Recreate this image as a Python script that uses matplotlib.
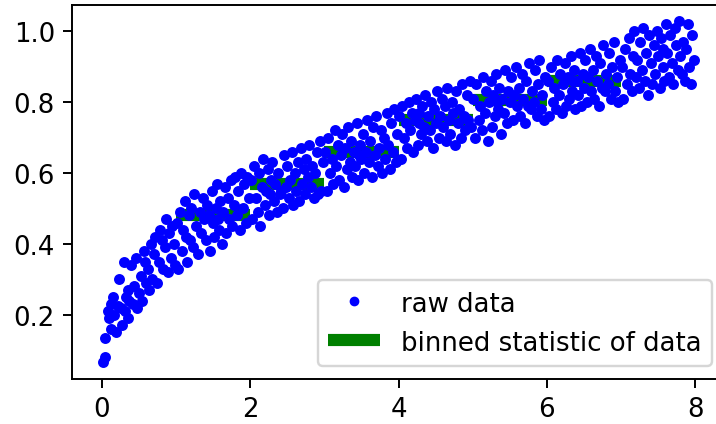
import numpy as np
import matplotlib
matplotlib.use("Agg")
import matplotlib.pyplot as plt

# raw data
windspeed = [
    # 0 - 1
    0.02, 0.04, 0.05, 0.08, 0.10, 0.12, 0.15, 0.17, 0.19, 0.22,
    0.24, 0.26, 0.28, 0.30, 0.31, 0.33, 0.35, 0.37, 0.40, 0.42,
    0.44, 0.46, 0.48, 0.50, 0.53, 0.55, 0.57, 0.60, 0.62, 0.64,
    0.66, 0.68, 0.70, 0.72, 0.75, 0.77, 0.79, 0.81, 0.83, 0.85,
    0.87, 0.89, 0.91, 0.93, 0.95, 0.97, 0.99, 0.13, 0.36, 0.58,
    # 1 - 2
    1.01, 1.03, 1.06, 1.08, 1.10, 1.12, 1.15, 1.17, 1.19, 1.21,
    1.23, 1.25, 1.27, 1.30, 1.32, 1.34, 1.36, 1.38, 1.40, 1.42,
    1.44, 1.46, 1.48, 1.50, 1.52, 1.54, 1.56, 1.58, 1.60, 1.62,
    1.64, 1.66, 1.68, 1.70, 1.72, 1.74, 1.76, 1.78, 1.80, 1.82,
    1.84, 1.86, 1.88, 1.90, 1.92, 1.94, 1.96, 1.98, 1.13, 1.57,
    # 2 - 3
    2.01, 2.03, 2.05, 2.08, 2.10, 2.12, 2.14, 2.16, 2.18, 2.20,
    2.22, 2.24, 2.26, 2.28, 2.30, 2.32, 2.34, 2.36, 2.38, 2.40,
    2.42, 2.44, 2.46, 2.48, 2.50, 2.52, 2.54, 2.56, 2.58, 2.60,
    2.62, 2.64, 2.66, 2.68, 2.70, 2.72, 2.74, 2.76, 2.78, 2.80,
    2.82, 2.84, 2.86, 2.88, 2.90, 2.92, 2.94, 2.96, 2.98, 2.27,
    # 3 - 4
    3.01, 3.03, 3.05, 3.08, 3.10, 3.12, 3.14, 3.16, 3.18, 3.20,
    3.22, 3.24, 3.26, 3.28, 3.30, 3.32, 3.34, 3.36, 3.38, 3.40,
    3.42, 3.44, 3.46, 3.48, 3.50, 3.52, 3.54, 3.56, 3.58, 3.60,
    3.62, 3.64, 3.66, 3.68, 3.70, 3.72, 3.74, 3.76, 3.78, 3.80,
    3.82, 3.84, 3.86, 3.88, 3.90, 3.92, 3.94, 3.96, 3.98, 3.47,
    # 4 - 5
    4.01, 4.03, 4.05, 4.08, 4.10, 4.12, 4.14, 4.16, 4.18, 4.20,
    4.22, 4.24, 4.26, 4.28, 4.30, 4.32, 4.34, 4.36, 4.38, 4.40,
    4.42, 4.44, 4.46, 4.48, 4.50, 4.52, 4.54, 4.56, 4.58, 4.60,
    4.62, 4.64, 4.66, 4.68, 4.70, 4.72, 4.74, 4.76, 4.78, 4.80,
    4.82, 4.84, 4.86, 4.88, 4.90, 4.92, 4.94, 4.96, 4.98, 4.27,
    # 5 - 6
    5.01, 5.03, 5.05, 5.08, 5.10, 5.12, 5.14, 5.16, 5.18, 5.20,
    5.22, 5.24, 5.26, 5.28, 5.30, 5.32, 5.34, 5.36, 5.38, 5.40,
    5.42, 5.44, 5.46, 5.48, 5.50, 5.52, 5.54, 5.56, 5.58, 5.60,
    5.62, 5.64, 5.66, 5.68, 5.70, 5.72, 5.74, 5.76, 5.78, 5.80,
    5.82, 5.84, 5.86, 5.88, 5.90, 5.92, 5.94, 5.96, 5.98, 5.33,
    # 6 - 7
    6.01, 6.03, 6.05, 6.08, 6.10, 6.12, 6.14, 6.16, 6.18, 6.20,
    6.22, 6.24, 6.26, 6.28, 6.30, 6.32, 6.34, 6.36, 6.38, 6.40,
    6.42, 6.44, 6.46, 6.48, 6.50, 6.52, 6.54, 6.56, 6.58, 6.60,
    6.62, 6.64, 6.66, 6.68, 6.70, 6.72, 6.74, 6.76, 6.78, 6.80,
    6.82, 6.84, 6.86, 6.88, 6.90, 6.92, 6.94, 6.96, 6.98, 6.35,
    # 7 - 8
    7.01, 7.03, 7.05, 7.08, 7.10, 7.12, 7.14, 7.16, 7.18, 7.20,
    7.22, 7.24, 7.26, 7.28, 7.30, 7.32, 7.34, 7.36, 7.38, 7.40,
    7.42, 7.44, 7.46, 7.48, 7.50, 7.52, 7.54, 7.56, 7.58, 7.60,
    7.62, 7.64, 7.66, 7.68, 7.70, 7.72, 7.74, 7.76, 7.78, 7.80,
    7.82, 7.84, 7.86, 7.88, 7.90, 7.92, 7.94, 7.96, 7.98, 7.57,
]

boatspeed = [
    # 0 - 1
    0.066, 0.08, 0.135, 0.21, 0.19, 0.23, 0.25, 0.20, 0.15, 0.225,
    0.30, 0.22, 0.17, 0.35, 0.21, 0.25, 0.19, 0.24, 0.34, 0.23,
    0.28, 0.36, 0.22, 0.26, 0.31, 0.24, 0.38, 0.29, 0.33, 0.27,
    0.40, 0.30, 0.37, 0.42, 0.29, 0.35, 0.44, 0.41, 0.33, 0.39,
    0.47, 0.32, 0.43, 0.36, 0.45, 0.40, 0.34, 0.16, 0.27, 0.35,
    # 1 - 2
    0.46, 0.33, 0.49, 0.38, 0.44, 0.52, 0.35, 0.48, 0.41, 0.50,
    0.39, 0.54, 0.45, 0.37, 0.49, 0.43, 0.53, 0.47, 0.41, 0.51,
    0.48, 0.38, 0.55, 0.46, 0.42, 0.50, 0.57, 0.44, 0.52, 0.40,
    0.49, 0.56, 0.43, 0.53, 0.47, 0.58, 0.45, 0.51, 0.59, 0.48,
    0.55, 0.44, 0.60, 0.50, 0.57, 0.46, 0.59, 0.53, 0.42, 0.47,
    # 2 - 3
    0.58, 0.47, 0.62, 0.53, 0.49, 0.60, 0.45, 0.56, 0.64, 0.51,
    0.55, 0.61, 0.48, 0.58, 0.63, 0.52, 0.57, 0.49, 0.60, 0.54,
    0.55, 0.50, 0.65, 0.56, 0.62, 0.53, 0.58, 0.66, 0.51, 0.60,
    0.55, 0.63, 0.52, 0.67, 0.57, 0.61, 0.54, 0.64, 0.59, 0.68,
    0.56, 0.62, 0.53, 0.60, 0.66, 0.54, 0.69, 0.55, 0.63, 0.54,
    # 3 - 4
    0.66, 0.55, 0.70, 0.60, 0.64, 0.57, 0.72, 0.62, 0.68, 0.58,
    0.65, 0.71, 0.56, 0.67, 0.61, 0.73, 0.63, 0.69, 0.59, 0.66,
    0.62, 0.74, 0.58, 0.68, 0.64, 0.71, 0.60, 0.66, 0.75, 0.63,
    0.69, 0.59, 0.73, 0.65, 0.76, 0.62, 0.67, 0.72, 0.60, 0.70,
    0.64, 0.77, 0.68, 0.61, 0.74, 0.66, 0.78, 0.63, 0.71, 0.65,
    # 4 - 5
    0.76, 0.64, 0.79, 0.70, 0.74, 0.67, 0.80, 0.72, 0.77, 0.66,
    0.75, 0.81, 0.68, 0.77, 0.71, 0.79, 0.73, 0.82, 0.69, 0.76,
    0.72, 0.80, 0.67, 0.78, 0.74, 0.83, 0.70, 0.76, 0.81, 0.73,
    0.79, 0.69, 0.84, 0.75, 0.71, 0.80, 0.77, 0.68, 0.83, 0.74,
    0.78, 0.70, 0.85, 0.76, 0.72, 0.82, 0.75, 0.86, 0.73, 0.74,
    # 5 - 6
    0.81, 0.70, 0.85, 0.75, 0.79, 0.72, 0.87, 0.77, 0.83, 0.69,
    0.80, 0.86, 0.73, 0.82, 0.76, 0.88, 0.78, 0.84, 0.71, 0.81,
    0.77, 0.89, 0.74, 0.83, 0.80, 0.87, 0.75, 0.82, 0.90, 0.79,
    0.84, 0.76, 0.88, 0.81, 0.74, 0.86, 0.79, 0.91, 0.78, 0.83,
    0.80, 0.89, 0.76, 0.85, 0.92, 0.78, 0.82, 0.75, 0.87, 0.80,
    # 6 - 7
    0.86, 0.76, 0.90, 0.80, 0.84, 0.78, 0.92, 0.82, 0.88, 0.77,
    0.85, 0.91, 0.79, 0.87, 0.81, 0.93, 0.83, 0.89, 0.78, 0.86,
    0.82, 0.94, 0.79, 0.88, 0.84, 0.92, 0.80, 0.87, 0.95, 0.83,
    0.89, 0.81, 0.93, 0.86, 0.79, 0.91, 0.84, 0.96, 0.83, 0.88,
    0.85, 0.94, 0.81, 0.90, 0.97, 0.83, 0.87, 0.80, 0.92, 0.86,
    # 7 - 8
    0.90, 0.81, 0.95, 0.85, 0.98, 0.88, 0.83, 0.93, 1.00, 0.87,
    0.92, 0.84, 0.97, 0.89, 1.01, 0.86, 0.94, 0.82, 0.99, 0.91,
    0.85, 0.96, 0.88, 1.00, 0.93, 0.84, 0.98, 0.90, 0.86, 1.02,
    0.94, 0.87, 0.99, 0.91, 0.85, 1.01, 0.96, 0.89, 1.03, 0.93,
    0.88, 0.97, 0.86, 0.95, 1.02, 0.90, 0.85, 0.99, 0.92, 0.95,
]

bin_edges = [1, 2, 3, 4, 5, 6, 7]

windspeed = np.array(windspeed)
boatspeed = np.array(boatspeed)

# median of the data in each bin
bin_means = []
for lo, hi in zip(bin_edges[:-1], bin_edges[1:]):
    inbin = (windspeed >= lo) & (windspeed < hi)
    bin_means.append(np.median(boatspeed[inbin]))

plt.rcParams['font.size'] = 10.7

dpi = 175
fig = plt.figure(figsize=(716 / dpi, 425 / dpi), dpi=dpi)
ax = fig.add_axes([72 / 716, 1 - 380 / 425, (725 - 72) / 716, (380 - 5.7) / 425])

ax.plot(windspeed, boatspeed, 'b.', markersize=7, label='raw data')
ax.hlines(bin_means, bin_edges[:-1], bin_edges[1:], colors='g', lw=5,
          label='binned statistic of data', zorder=1)
ax.set_xlim(-0.4, 8.4)
ax.set_ylim(0.0185, 1.075)
ax.legend(loc='lower right', markerscale=6 / 7)

fig.savefig('out.png', dpi=dpi)
